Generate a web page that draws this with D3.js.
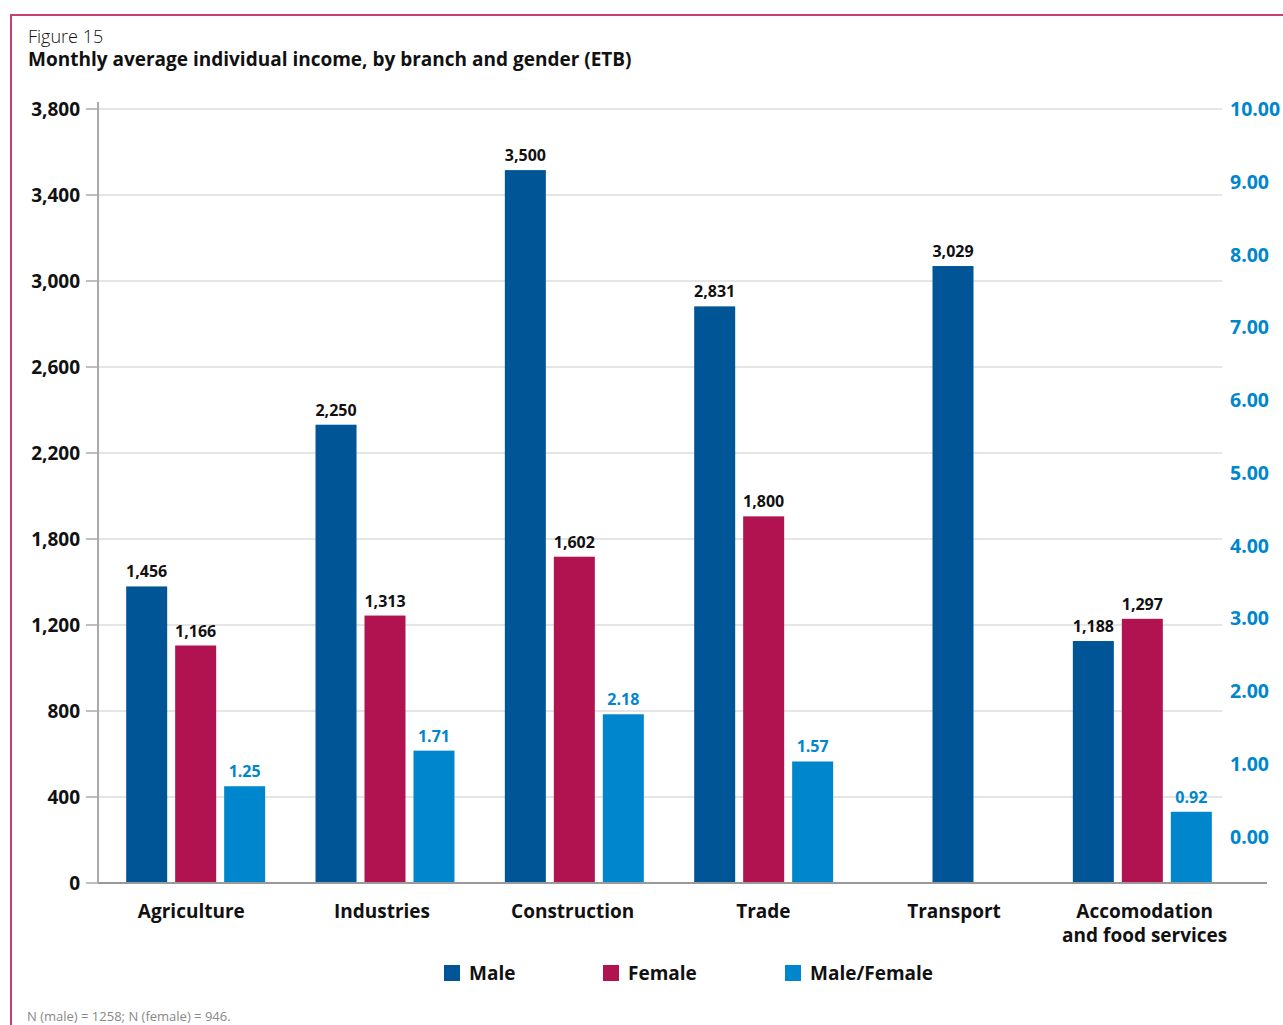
<!DOCTYPE html>
<html>
<head>
<meta charset="utf-8">
<script src="https://cdn.jsdelivr.net/npm/d3@7"></script>
<style>
  html, body { margin: 0; padding: 0; background: #fff; }
  svg { display: block; font-family: "Open Sans", "Noto Sans", sans-serif; }
</style>
</head>
<body>
<svg id="chart" width="1283" height="1025"></svg>
<script>
// Monthly average individual income (ETB) by branch and gender
const categories = ["Agriculture", "Industries", "Construction", "Trade", "Transport", "Accomodation\nand food services"];
const maleIncome = [1456, 2250, 3500, 2831, 3029, 1188];
const femaleIncome = [1166, 1313, 1602, 1800, null, 1297];
const maleFemaleRatio = [1.25, 1.71, 2.18, 1.57, null, 0.92];
const leftTickLabels = ["0", "400", "800", "1,200", "1,800", "2,200", "2,600", "3,000", "3,400", "3,800"];
const rightTickLabels = ["0.00", "1.00", "2.00", "3.00", "4.00", "5.00", "6.00", "7.00", "8.00", "9.00", "10.00"];
const seriesNames = ["Male", "Female", "Male/Female"];

const colors = { "Male": "#005596", "Female": "#b01350", "Male/Female": "#0086cd" };
const frameColor = "#c8406f";

const svg = d3.select("#chart");

// Frame lines
svg.append("line").attr("x1", 10).attr("x2", 1283).attr("y1", 15).attr("y2", 15)
  .attr("stroke", frameColor).attr("stroke-width", 2);
svg.append("line").attr("x1", 11).attr("x2", 11).attr("y1", 15).attr("y2", 1025)
  .attr("stroke", frameColor).attr("stroke-width", 2);

// Titles
svg.append("text").attr("x", 28).attr("y", 43).attr("font-size", 18).attr("font-weight", 300)
  .attr("fill", "#111").text("Figure 15");
svg.append("text").attr("x", 28).attr("y", 66).attr("font-size", 19).attr("font-weight", 700)
  .attr("fill", "#111").text("Monthly average individual income, by branch and gender (ETB)");

// Scales
const plotLeft = 98, plotBottom = 883, plotTop = 109, gridRight = 1222, baseRight = 1267;
const yL = d3.scaleLinear().domain([0, 3800]).range([plotBottom, plotTop]);
const yR = d3.scaleLinear().domain([0, 10]).range([plotBottom, plotTop]);
// the right-hand labels are spread on their own even grid, starting above the baseline
const yRLabel = d3.scaleLinear().domain([0, 10]).range([yR(0.6), yR(10)]);

const x0 = d3.scaleBand().domain(categories).range([101, 1237])
  .paddingInner(0.266).paddingOuter(0.133);
const x1 = d3.scaleBand().domain(seriesNames).range([0, x0.bandwidth()]).paddingInner(0.163);
// category labels sit on a slightly wider band of their own
const xLabel = d3.scaleBand().domain(categories).range([96, 1240]);

// Gridlines and left ticks (9 even intervals)
const leftTicks = d3.range(leftTickLabels.length).map(i => 3800 * i / (leftTickLabels.length - 1));
const grid = svg.append("g");
leftTicks.forEach((v, i) => {
  if (i > 0) {
    grid.append("line").attr("x1", plotLeft).attr("x2", gridRight)
      .attr("y1", yL(v)).attr("y2", yL(v)).attr("stroke", "#dcdcdc").attr("stroke-width", 1.5);
  }
  grid.append("line").attr("x1", 86).attr("x2", plotLeft)
    .attr("y1", yL(v)).attr("y2", yL(v)).attr("stroke", "#aaa").attr("stroke-width", 1.5);
  grid.append("text").attr("x", 80).attr("y", yL(v)).attr("dy", "0.36em")
    .attr("text-anchor", "end").attr("font-size", 19).attr("font-weight", 700)
    .attr("fill", "#111").text(leftTickLabels[i]);
});

// Right labels
rightTickLabels.forEach((lab, i) => {
  svg.append("text").attr("x", 1230).attr("y", yRLabel(i)).attr("dy", "0.36em")
    .attr("font-size", 19.5).attr("font-weight", 700).attr("fill", "#0086cd").text(lab);
});

// Left axis line
svg.append("line").attr("x1", plotLeft).attr("x2", plotLeft).attr("y1", 102).attr("y2", plotBottom)
  .attr("stroke", "#aaa").attr("stroke-width", 2);

// Bars
const rows = categories.map((c, i) => ({
  cat: c,
  items: [
    { s: "Male", v: maleIncome[i], y: yL, label: d3.format(",")(maleIncome[i]) },
    { s: "Female", v: femaleIncome[i], y: yL, label: femaleIncome[i] == null ? null : d3.format(",")(femaleIncome[i]) },
    { s: "Male/Female", v: maleFemaleRatio[i], y: yR, label: maleFemaleRatio[i] == null ? null : d3.format(".2f")(maleFemaleRatio[i]) }
  ].filter(d => d.v != null)
}));

const bw = x1.bandwidth();
const groups = svg.append("g").selectAll("g").data(rows).join("g");
groups.each(function (row) {
  const g = d3.select(this);
  const single = row.items.length === 1;
  row.items.forEach(d => {
    const bx = x0(row.cat) + (single ? (x0.bandwidth() - bw) / 2 : x1(d.s));
    const top = d.y(d.v);
    g.append("rect").attr("x", bx).attr("y", top).attr("width", bw)
      .attr("height", plotBottom - top).attr("fill", colors[d.s]);
    g.append("text").attr("x", bx + bw / 2).attr("y", top - 9)
      .attr("text-anchor", "middle").attr("font-size", 16).attr("font-weight", 700)
      .attr("fill", d.s === "Male/Female" ? "#0086cd" : "#111").text(d.label);
  });
});

// Baseline
svg.append("line").attr("x1", plotLeft).attr("x2", baseRight).attr("y1", plotBottom).attr("y2", plotBottom)
  .attr("stroke", "#999").attr("stroke-width", 2);

// Category labels
categories.forEach(c => {
  const cx = xLabel(c) + xLabel.bandwidth() / 2;
  const t = svg.append("text").attr("x", cx).attr("y", 918)
    .attr("text-anchor", "middle").attr("font-size", 19).attr("font-weight", 700).attr("fill", "#111");
  c.split("\n").forEach((line, j) => {
    t.append("tspan").attr("x", cx).attr("dy", j === 0 ? 0 : 24).text(line);
  });
});

// Legend
const legendX = [444, 603, 785];
seriesNames.forEach((s, i) => {
  svg.append("rect").attr("x", legendX[i]).attr("y", 965).attr("width", 16).attr("height", 16)
    .attr("fill", colors[s]);
  svg.append("text").attr("x", legendX[i] + 25).attr("y", 980).attr("font-size", 19)
    .attr("font-weight", 700).attr("fill", "#111").text(s);
});

// Footnote
svg.append("text").attr("x", 27).attr("y", 1021).attr("font-size", 13).attr("fill", "#888")
  .text("N (male) = 1258; N (female) = 946.");
</script>
</body>
</html>
